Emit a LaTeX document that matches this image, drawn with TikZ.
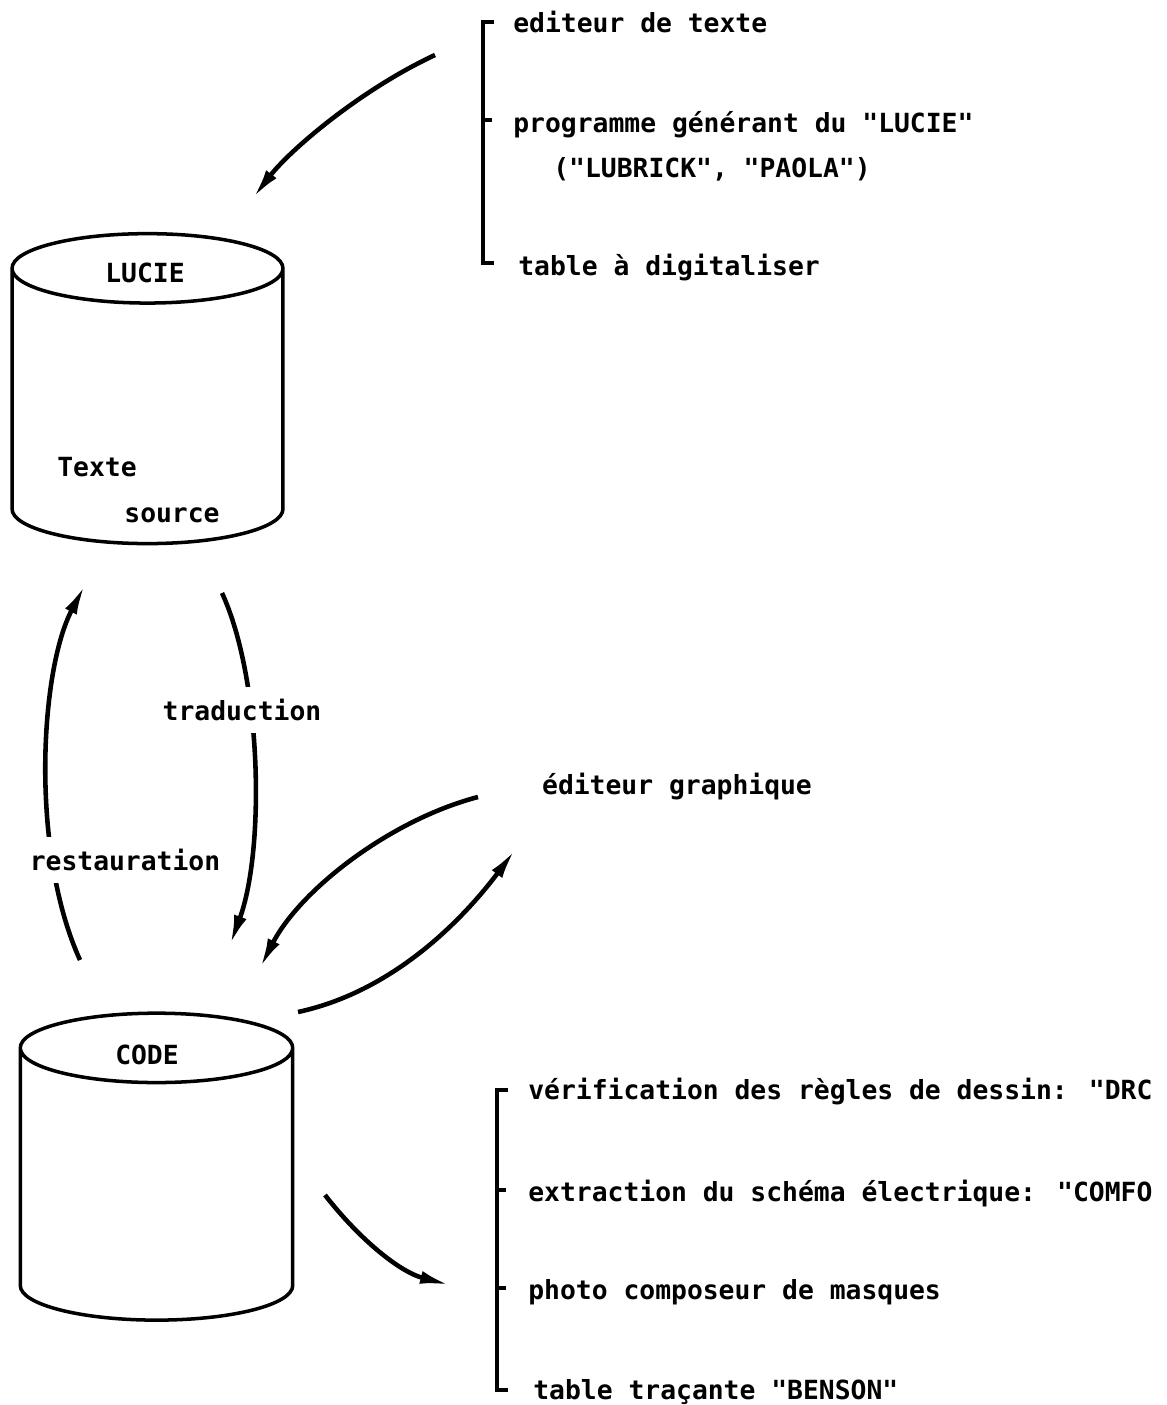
\documentclass[tikz,border=0pt]{standalone}
\usepackage{fontspec}
\setmainfont{DejaVu Sans Mono}[Ligatures=TeXOff]
\usetikzlibrary{shapes.geometric,arrows.meta}
\begin{document}
\begin{tikzpicture}[x=0.02cm,y=0.02cm,
	font=\fontsize{15}{18}\selectfont\bfseries,
	base/.style={cylinder, shape border rotate=90, inner sep=5pt, aspect=3.95, draw, line width=2pt},
	texte/.style={anchor=west, inner sep=0pt},
	coupure/.style={fill=white, inner xsep=0pt, inner ysep=7pt},
	fleche/.style={line width=2.6pt, -{Latex[length=6mm,width=2.6mm]}},
	accolade/.style={line width=2.2pt}]
	\useasboundingbox (0,0) rectangle (1166,-1405);
	% bases
	\node[base, minimum width=5.42cm, minimum height=6.2cm] (lucie) at (147.5,-413) {};
	\node[base, minimum width=5.45cm, minimum height=6.14cm] (code) at (156.5,-1191) {};
	\node (nom-lucie) at (145,-273) {LUCIE};
	\node (nom-texte) at (97,-467) {Texte};
	\node (nom-source) at (172,-515) {source};
	\node (nom-code) at (147,-1055) {CODE};
	% outils d'entree
	\node[texte] (edit) at (513,-22) {editeur de texte};
	\node[texte] (prog) at (513,-125) {programme générant du "LUCIE"};
	\node[texte] (lubrick) at (553,-169) {("LUBRICK", "PAOLA")};
	\node[texte] (digit) at (518,-268) {table à digitaliser};
	\draw[accolade] (494,-22) -- (483,-22) -- (483,-263) -- (494,-263);
	\draw[accolade] (483,-120) -- (492,-120);
	% outils de sortie
	\node[texte] (drc) at (528,-1092) {vérification des règles de dessin: "DRC};
	\node[texte] (comfo) at (528,-1194) {extraction du schéma électrique: "COMFO};
	\node[texte] (photo) at (528,-1292) {photo composeur de masques};
	\node[texte] (benson) at (533,-1392) {table traçante "BENSON"};
	\draw[accolade] (508,-1090) -- (497,-1090) -- (497,-1390) -- (508,-1390);
	\foreach \y in {1190,1288}
		\draw[accolade] (497,-\y) -- (506,-\y);
	\node (graph) at (677,-787) {éditeur graphique};
	% fleches
	\coordinate (a1) at (435,-55);
	\coordinate (a2) at (253,-198);
	\coordinate (r1) at (80,-960);
	\coordinate (r2) at (85,-585);
	\coordinate (d1) at (222,-593);
	\coordinate (d2) at (230,-945);
	\coordinate (g1) at (478,-797);
	\coordinate (g2) at (260,-968);
	\coordinate (g3) at (298,-1012);
	\coordinate (g4) at (515,-850);
	\coordinate (s1) at (325,-1195);
	\coordinate (s2) at (450,-1285);
	\draw[fleche] (a1) .. controls (360,-90) and (290,-150) .. (a2);
	\draw[fleche] (r1) .. controls (30,-850) and (40,-670) .. (r2);
	\draw[fleche] (d1) .. controls (262,-680) and (265,-850) .. (d2);
	\draw[fleche] (g1) .. controls (390,-820) and (300,-890) .. (g2);
	\draw[fleche] (g3) .. controls (400,-990) and (470,-910) .. (g4);
	\draw[fleche] (s1) .. controls (360,-1240) and (400,-1272) .. (s2);
	\node[coupure] (restau) at (125,-860) {restauration};
	\node[coupure] (trad) at (242,-710) {traduction};
\end{tikzpicture}
\end{document}
